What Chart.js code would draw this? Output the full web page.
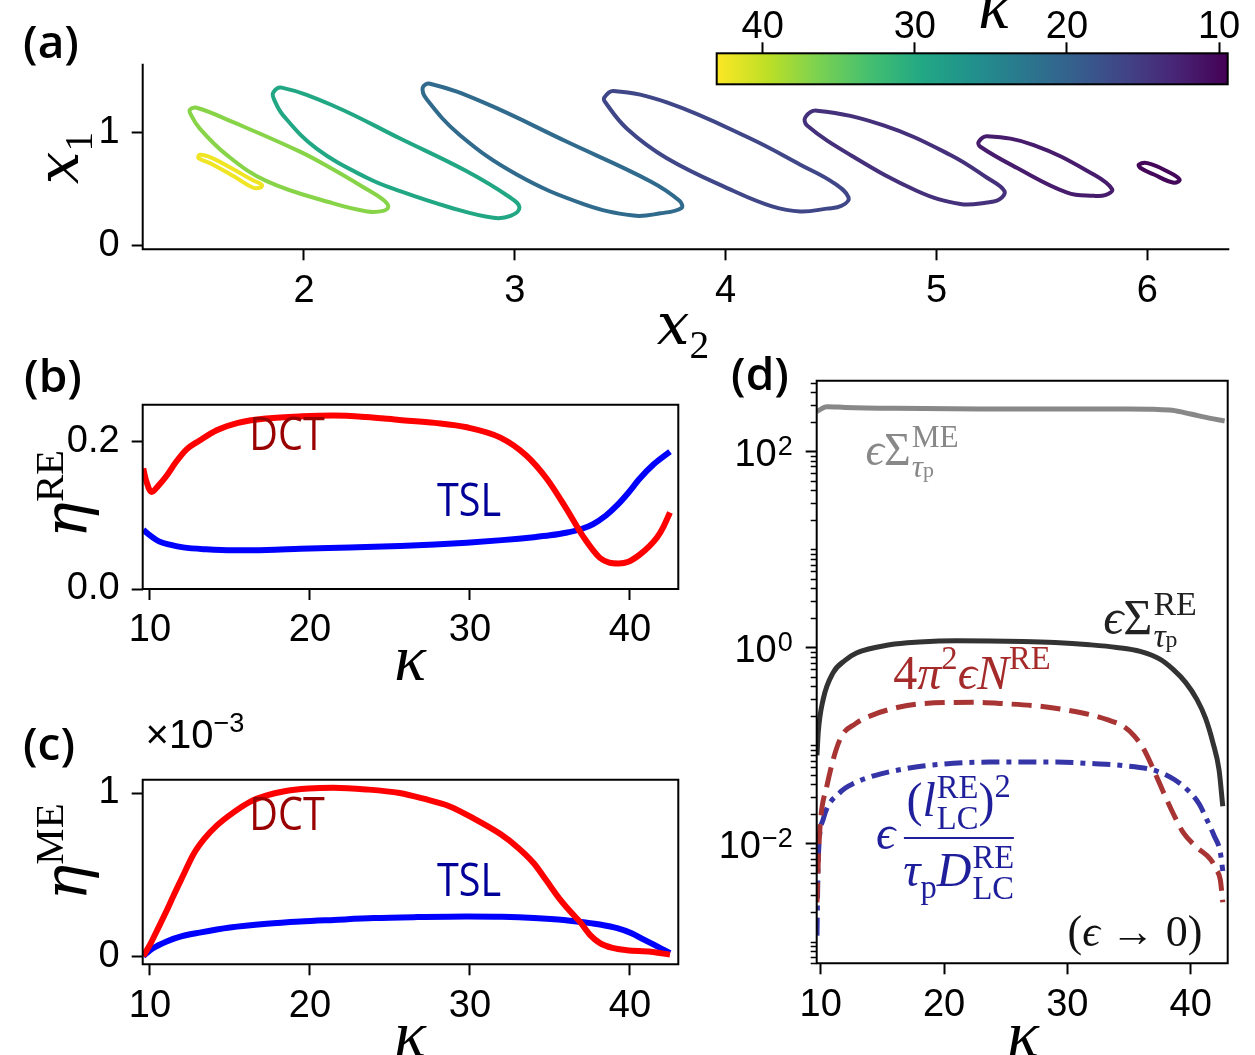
<!DOCTYPE html>
<html>
<head>
<meta charset="utf-8">
<script src="https://cdn.jsdelivr.net/npm/chart.js@4.4.1/dist/chart.umd.min.js"></script>
<style>
  html, body { margin: 0; padding: 0; background: #fff; }
  #page { position: relative; width: 1255px; height: 1055px; overflow: hidden; }
  canvas { position: absolute; }
  .t { position: absolute; white-space: nowrap; line-height: 1; transform: translate(-50%, -50%); }
  .rot { transform: translate(-50%, -50%) rotate(-90deg); }
  .sans { font-family: "Liberation Sans", Arial, sans-serif; }
  .lab { font-family: "Open Sans", "Noto Sans", sans-serif; font-weight: 600; font-size: 46px; }
  .word { font-family: "Open Sans", "Noto Sans", sans-serif; }
  .m { font-family: "Liberation Serif", "DejaVu Serif", serif; }
  .m i { font-style: italic; }
  .ax { font-family: "Liberation Serif", "DejaVu Serif", serif; font-style: italic; }
  .ax .dj { font-family: "DejaVu Serif", serif; }
  .ax .r { font-style: normal; }
  .sp { font-size: 0.68em; position: relative; top: -0.6em; font-style: normal; }
  .sb { font-size: 0.68em; position: relative; top: 0.35em; font-style: normal; }
  .ss { display: inline-flex; flex-direction: column; font-size: 0.68em; line-height: 0.95;
        vertical-align: 0.56em; font-style: normal; margin-left: 1px; }
  .frac { display: inline-flex; flex-direction: column; align-items: center; vertical-align: middle; margin-left: 8px; }
  .frac .num { border-bottom: 2px solid currentColor; padding: 0 3px 3px 3px; }
  .frac .den { padding-top: 3px; }
</style>
</head>
<body>
<div id="page">
  <canvas id="cA" width="1255" height="300" style="left:0;top:30px"></canvas>
  <canvas id="cBar" width="565" height="100" style="left:690px;top:0"></canvas>
  <canvas id="cB" width="700" height="310" style="left:0;top:370px"></canvas>
  <canvas id="cC" width="700" height="300" style="left:0;top:745px"></canvas>
  <canvas id="cD" width="555" height="685" style="left:700px;top:370px"></canvas>

  <!-- panel letters -->
  <div class="t lab" style="left:51px;top:40px">(a)</div>
  <div class="t lab" style="left:53px;top:374px">(b)</div>
  <div class="t lab" style="left:49px;top:742px">(c)</div>
  <div class="t lab" style="left:760px;top:372px">(d)</div>

  <!-- axis titles -->
  <div class="t ax rot" style="left:58px;top:158px;font-size:58px"><span class="dj">x</span><span class="sb r">1</span></div>
  <div class="t ax" style="left:683px;top:324px;font-size:58px"><span class="dj">x</span><span class="sb r">2</span></div>
  <div class="t ax" style="left:994px;top:6px;font-size:66px">κ</div>
  <div class="t ax rot" style="left:66px;top:494px;font-size:60px"><span class="dj">η</span><span class="sp r">RE</span></div>
  <div class="t ax" style="left:410px;top:658px;font-size:66px">κ</div>
  <div class="t ax rot" style="left:66px;top:852px;font-size:60px"><span class="dj">η</span><span class="sp r">ME</span></div>
  <div class="t sans" style="left:195px;top:734px;font-size:40px">×10<span class="sp">−3</span></div>
  <div class="t ax" style="left:410px;top:1034px;font-size:66px">κ</div>
  <div class="t ax" style="left:1023px;top:1034px;font-size:66px">κ</div>

  <!-- curve names in (b) and (c) -->
  <div class="t word" style="left:287px;top:432px;font-size:46px;color:#990000;transform:translate(-50%,-50%) scaleX(0.86)">DCT</div>
  <div class="t word" style="left:469px;top:498px;font-size:46px;color:#000099;transform:translate(-50%,-50%) scaleX(0.86)">TSL</div>
  <div class="t word" style="left:287px;top:812px;font-size:46px;color:#990000;transform:translate(-50%,-50%) scaleX(0.86)">DCT</div>
  <div class="t word" style="left:469px;top:878px;font-size:46px;color:#000099;transform:translate(-50%,-50%) scaleX(0.86)">TSL</div>

  <!-- annotations in (d) -->
  <div class="t m" style="left:912px;top:452px;font-size:46px;color:#888888"><i>ϵ</i>Σ<span class="ss"><span>ME</span><span><i>τ</i><span style="font-size:0.7em">p</span></span></span></div>
  <div class="t m" style="left:1150px;top:620px;font-size:50px;color:#222222"><i>ϵ</i>Σ<span class="ss"><span>RE</span><span><i>τ</i><span style="font-size:0.7em">p</span></span></span></div>
  <div class="t m" style="left:972px;top:673px;font-size:48px;color:#a52a2a">4<i>π</i><span class="sp">2</span><i>ϵ</i><i>N</i><span class="sp">RE</span></div>
  <div class="t m" style="left:945px;top:838px;font-size:48px;color:#1f1f9c">
    <i>ϵ</i><span class="frac">
      <span class="num">(<i>l</i><span class="ss"><span>RE</span><span>LC</span></span>)<span class="sp">2</span></span>
      <span class="den"><i>τ</i><span class="sb">p</span><i>D</i><span class="ss"><span>RE</span><span>LC</span></span></span>
    </span>
  </div>
  <div class="t m" style="left:1135px;top:932px;font-size:44px;color:#111">(<i>ϵ</i> → 0)</div>
</div>

<script>
// ---------- data ----------
// (a) closed orbits, points are [x2, x1]; one kappa per orbit
const loopKappa = [42.3, 37, 29.5, 21, 16.5, 14, 12, 10];
const loop1 = [[1.665,0.676],[1.76,0.575],[1.80,0.538],[1.795,0.514],[1.759,0.511],[1.665,0.615],[1.56,0.725],[1.50,0.775],[1.506,0.806],[1.56,0.78],[1.665,0.676]];
const loop2 = [[1.981,0.833],[2.139,0.673],[2.298,0.497],[2.372,0.41],[2.40,0.345],[2.375,0.305],[2.30,0.30],[2.139,0.371],[1.823,0.570],[1.633,0.804],[1.506,1.038],[1.462,1.169],[1.459,1.208],[1.491,1.225],[1.664,1.096],[1.981,0.833]];
const loop3 = [[2.456,0.95],[2.772,0.658],[2.978,0.424],[3.022,0.336],[2.98,0.26],[2.898,0.243],[2.693,0.335],[2.456,0.48],[2.298,0.60],[2.06,0.86],[1.902,1.155],[1.858,1.30],[1.854,1.36],[1.894,1.404],[2.139,1.243],[2.456,0.95]];
const loop4 = [[3.247,0.921],[3.642,0.570],[3.781,0.395],[3.79,0.33],[3.690,0.283],[3.563,0.263],[3.326,0.366],[3.009,0.629],[2.740,0.98],[2.582,1.30],[2.563,1.404],[2.598,1.439],[2.851,1.272],[3.247,0.921]];
const loop5 = [[4.117,0.950],[4.354,0.717],[4.512,0.555],[4.583,0.424],[4.55,0.35],[4.48,0.325],[4.354,0.30],[4.22,0.345],[4.038,0.482],[3.721,0.775],[3.532,1.038],[3.43,1.272],[3.424,1.316],[3.468,1.375],[3.721,1.272],[4.117,0.950]];
const loop6 = [[4.749,1.067],[5.066,0.804],[5.24,0.60],[5.322,0.482],[5.30,0.41],[5.24,0.38],[5.113,0.366],[4.908,0.482],[4.591,0.804],[4.386,1.067],[4.378,1.14],[4.433,1.199],[4.749,1.067]];
const loop7 = [[5.461,0.892],[5.746,0.629],[5.833,0.497],[5.80,0.445],[5.746,0.439],[5.62,0.468],[5.383,0.687],[5.208,0.877],[5.20,0.921],[5.24,0.971],[5.461,0.892]];
const loop8 = [[6.094,0.658],[6.153,0.585],[6.126,0.556],[6.031,0.629],[5.968,0.687],[5.96,0.717],[6.0,0.731],[6.094,0.658]];
const loops = [loop1, loop2, loop3, loop4, loop5, loop6, loop7, loop8];

// (b) eta^RE
const kB_DCT = [9.58, 9.75, 10.1, 10.5, 11.04, 11.6, 12.29, 13.1, 14.17, 15.5, 17.29, 19.5, 21.46, 23.5, 25.6, 27.8, 29.8, 31.9, 33.5, 34.8, 36.0, 37.1, 38.1, 38.7, 39.3, 39.9, 40.6, 41.2, 41.7, 42.1, 42.5];
const etaRE_DCT = [0.164, 0.148, 0.132, 0.140, 0.154, 0.172, 0.190, 0.202, 0.216, 0.226, 0.232, 0.235, 0.236, 0.234, 0.230, 0.226, 0.220, 0.206, 0.182, 0.150, 0.110, 0.0705, 0.0427, 0.036, 0.0347, 0.037, 0.0466, 0.058, 0.0705, 0.085, 0.104];
const kB_TSL = [9.58, 10.0, 10.6, 11.3, 12.08, 13.5, 15.2, 17.3, 19.4, 22.5, 25.6, 27.8, 29.8, 32, 34, 35, 36, 37, 37.7, 38.5, 39.2, 39.9, 40.6, 41.5, 42.5];
const etaRE_TSL = [0.0805, 0.073, 0.0645, 0.060, 0.0566, 0.054, 0.0526, 0.053, 0.0546, 0.0565, 0.0586, 0.0605, 0.063, 0.0665, 0.0705, 0.073, 0.0765, 0.082, 0.0884, 0.100, 0.114, 0.131, 0.150, 0.170, 0.187];

// (c) eta^ME, in units of 1e-3
const kC_DCT = [9.58, 10.0, 10.42, 11.0, 11.46, 12.1, 12.7, 13.4, 14.17, 15.2, 16.25, 17.3, 18.33, 19.9, 21.46, 23.5, 25.6, 27.1, 28.7, 30.3, 31.9, 33.0, 34.0, 34.8, 35.6, 36.3, 36.9, 37.5, 38.1, 38.9, 39.8, 41.3, 42.5];
const etaME_DCT = [0, 0.07, 0.153, 0.27, 0.369, 0.50, 0.622, 0.72, 0.80, 0.88, 0.946, 0.985, 1.009, 1.027, 1.032, 1.022, 1.0, 0.965, 0.919, 0.84, 0.748, 0.665, 0.568, 0.46, 0.351, 0.27, 0.207, 0.13, 0.081, 0.05, 0.036, 0.027, 0.009];
const kC_TSL = [9.58, 10.0, 10.5, 11.04, 12, 13.1, 15, 17.3, 19.4, 21.5, 24, 26.7, 29.8, 32, 34, 35.5, 37.1, 38.2, 39.2, 40.1, 40.9, 41.7, 42.5];
const etaME_TSL = [0, 0.036, 0.065, 0.09, 0.122, 0.144, 0.175, 0.198, 0.212, 0.222, 0.233, 0.239, 0.243, 0.241, 0.234, 0.224, 0.207, 0.192, 0.171, 0.14, 0.099, 0.06, 0.018];

// (d) log-scale quantities
const kD_ME = [9.7, 10.5, 12, 16, 23, 30, 35, 37, 38.5, 40, 41.5, 42.75];
const sigmaME = [255, 285, 280, 274, 270, 270, 270, 268, 262, 240, 218, 204];
const kD_RE = [9.7, 9.8, 10.2, 11.0, 12.0, 12.9, 15.6, 18, 21, 26.4, 29, 31.8, 34, 35.9, 37.5, 38.6, 39.6, 40.5, 41.2, 41.8, 42.3, 42.6];
const sigmaRE = [0.0794, 0.135, 0.295, 0.55, 0.741, 0.877, 1.064, 1.135, 1.17, 1.15, 1.122, 1.064, 1.0, 0.912, 0.759, 0.593, 0.437, 0.295, 0.19, 0.107, 0.0562, 0.024];
const kD_N = [9.7, 9.8, 9.95, 10.5, 11.56, 12.8, 14.3, 16.3, 18.3, 22.4, 25, 27.8, 30, 31.8, 33.3, 34.5, 35.4, 36.2, 37, 37.8, 38.6, 39.4, 40.5, 41.6, 42.1, 42.4, 42.6];
const normN = [0.00251, 0.00631, 0.0151, 0.0385, 0.115, 0.166, 0.2065, 0.245, 0.267, 0.275, 0.266, 0.251, 0.229, 0.2065, 0.182, 0.158, 0.126, 0.0912, 0.0562, 0.0331, 0.02, 0.0129, 0.00912, 0.00692, 0.00537, 0.00427, 0.00251];
const kD_L = [9.7, 9.75, 9.8, 10.2, 11.56, 12.8, 14.3, 16.3, 18.3, 23.7, 29.1, 32, 34.5, 37.2, 38.7, 39.95, 40.7, 41.3, 41.9, 42.4, 42.6];
const lcRatio = [0.00115, 0.00316, 0.00692, 0.0176, 0.0331, 0.0417, 0.049, 0.0562, 0.0617, 0.0676, 0.0676, 0.0653, 0.0624, 0.055, 0.0447, 0.0331, 0.0251, 0.0176, 0.012, 0.00813, 0.00525];

// tick values
const xTicksA = [2, 3, 4, 5, 6];
const yTicksA = [0, 1];
const kappaTicks = [10, 20, 30, 40];
const yTicksB = [0, 0.2];
const yTicksC = [0, 1];
const barTicks = [10, 20, 30, 40];
const logMajor = [1e-2, 1, 1e2];

// ---------- styling helpers ----------
const VIRIDIS = ['#440154', '#482475', '#414487', '#355f8d', '#2a788e', '#21918c', '#22a884', '#44bf70', '#7ad151', '#bddf26', '#fde725'];
const K_MIN = 9.43, K_MAX = 43.02;

function hex2rgb(h) {
  return [1, 3, 5].map(i => parseInt(h.substr(i, 2), 16));
}
function viridis(f) {
  f = Math.max(0, Math.min(1, f)) * 10;
  const i = Math.min(9, Math.floor(f)), t = f - i;
  const a = hex2rgb(VIRIDIS[i]), b = hex2rgb(VIRIDIS[i + 1]);
  const c = a.map((v, k) => Math.round(v + (b[k] - v) * t));
  return `rgb(${c[0]},${c[1]},${c[2]})`;
}
const pts = (xs, ys) => xs.map((x, i) => ({ x, y: ys[i] }));

const TICK_FONT = { family: '"Liberation Sans", Arial, sans-serif', size: 38 };

const framePlugin = {
  id: 'frame',
  afterDatasetsDraw(chart, args, opts) {
    const { left, top, right, bottom } = chart.chartArea;
    const c = chart.ctx;
    c.save();
    c.strokeStyle = '#000';
    c.lineWidth = 2;
    c.lineCap = 'square';
    c.beginPath();
    if (opts.box) {
      c.rect(left, top, right - left, bottom - top);
    } else {
      c.moveTo(left, top);
      c.lineTo(left, bottom);
      c.lineTo(right, bottom);
    }
    c.stroke();
    c.restore();
  }
};

// place the plot area at an exact spot of the page
function layoutFor(canvasBox, plot) {
  return {
    padding: { left: 0, top: plot.t - canvasBox.y, right: canvasBox.x + canvasBox.w - plot.r, bottom: 0 },
    yw: plot.l - canvasBox.x,
    xh: canvasBox.y + canvasBox.h - plot.b
  };
}

function linAxis(min, max, ticks, fmt, size, isX) {
  return {
    type: 'linear',
    min, max,
    afterBuildTicks: s => { s.ticks = ticks.map(v => ({ value: v })); },
    afterFit: s => { if (isX) s.height = size; else s.width = size; },
    grid: { drawOnChartArea: false, drawTicks: true, tickLength: 11, tickWidth: 2, tickColor: '#000' },
    border: { display: false },
    ticks: { font: TICK_FONT, color: '#000', padding: isX ? 8 : 12, maxRotation: 0, autoSkip: false, callback: fmt }
  };
}

const baseOptions = (lay) => ({
  responsive: false,
  animation: false,
  events: [],
  layout: { padding: lay.padding },
  plugins: { legend: { display: false }, tooltip: { enabled: false } },
  elements: { point: { radius: 0 } }
});

// closed smooth loop: add one wrap-around point on each side and hide those two segments
function closedLoop(lp) {
  const n = lp.length;
  const ring = [lp[n - 2], ...lp, lp[1]];
  return ring.map(p => ({ x: p[0], y: p[1] }));
}

// ---------- (a) orbits ----------
{
  const box = { x: 0, y: 30, w: 1255, h: 300 };
  const lay = layoutFor(box, { l: 142.7, t: 61.7, r: 1228.3, b: 249.3 });
  const opts = baseOptions(lay);
  opts.plugins.frame = { box: false };
  opts.scales = {
    x: linAxis(1.235, 6.384, xTicksA, v => String(v), lay.xh, true),
    y: linAxis(-0.038, 1.608, yTicksA, v => String(v), lay.yw, false)
  };
  new Chart(document.getElementById('cA'), {
    type: 'scatter',
    data: {
      datasets: loops.map((lp, i) => {
        const data = closedLoop(lp);
        return {
          data,
          showLine: true,
          borderColor: viridis((loopKappa[i] - K_MIN) / (K_MAX - K_MIN)),
          borderWidth: 4,
          tension: 0.4,
          pointRadius: 0,
          segment: {
            borderColor: ctx => (ctx.p0DataIndex === 0 || ctx.p1DataIndex === data.length - 1) ? 'rgba(0,0,0,0)' : undefined
          }
        };
      })
    },
    options: opts,
    plugins: [framePlugin]
  });
}

// ---------- colorbar ----------
{
  const box = { x: 690, y: 0, w: 565, h: 100 };
  const plot = { l: 716.7, t: 53.3, r: 1227.7, b: 84.3 };
  const gradientPlugin = {
    id: 'cbar',
    beforeDatasetsDraw(chart) {
      const { left, top, right, bottom } = chart.chartArea;
      const c = chart.ctx;
      const g = c.createLinearGradient(left, 0, right, 0);
      VIRIDIS.forEach((col, i) => g.addColorStop(i / 10, VIRIDIS[10 - i]));
      c.save();
      c.fillStyle = g;
      c.fillRect(left, top, right - left, bottom - top);
      c.strokeStyle = '#000';
      c.lineWidth = 2;
      c.strokeRect(left, top, right - left, bottom - top);
      c.restore();
    }
  };
  const xAx = linAxis(K_MIN, K_MAX, barTicks, v => String(v), plot.t - box.y, true);
  xAx.position = 'top';
  xAx.reverse = true;
  xAx.ticks.padding = -8;
  new Chart(document.getElementById('cBar'), {
    type: 'scatter',
    data: { datasets: [{ data: [] }] },
    options: Object.assign(baseOptions({ padding: {} }), {
      layout: { padding: { left: plot.l - box.x, right: box.x + box.w - plot.r, top: 0, bottom: box.y + box.h - plot.b } },
      scales: { x: xAx, y: { display: false, min: 0, max: 1 } }
    }),
    plugins: [gradientPlugin]
  });
}

// ---------- (b) eta^RE ----------
{
  const box = { x: 0, y: 370, w: 700, h: 310 };
  const lay = layoutFor(box, { l: 142.7, t: 379.3, r: 678.3, b: 589 });
  const opts = baseOptions(lay);
  opts.plugins.frame = { box: true };
  opts.scales = {
    x: linAxis(9.544, 43.02, kappaTicks, v => String(v), lay.xh, true),
    y: linAxis(0, 0.2506, yTicksB, v => v.toFixed(1), lay.yw, false)
  };
  new Chart(document.getElementById('cB'), {
    type: 'scatter',
    data: {
      datasets: [
        { data: pts(kB_DCT, etaRE_DCT), showLine: true, borderColor: '#ff0000', borderWidth: 6, tension: 0.4, cubicInterpolationMode: 'monotone' },
        { data: pts(kB_TSL, etaRE_TSL), showLine: true, borderColor: '#0000ff', borderWidth: 6, tension: 0.4, cubicInterpolationMode: 'monotone' }
      ]
    },
    options: opts,
    plugins: [framePlugin]
  });
}

// ---------- (c) eta^ME ----------
{
  const box = { x: 0, y: 745, w: 700, h: 300 };
  const lay = layoutFor(box, { l: 142.7, t: 755, r: 678.3, b: 964.3 });
  const opts = baseOptions(lay);
  opts.plugins.frame = { box: true };
  opts.scales = {
    x: linAxis(9.544, 43.02, kappaTicks, v => String(v), lay.xh, true),
    y: linAxis(-0.0503, 1.081, yTicksC, v => String(v), lay.yw, false)
  };
  new Chart(document.getElementById('cC'), {
    type: 'scatter',
    data: {
      datasets: [
        { data: pts(kC_DCT, etaME_DCT), showLine: true, borderColor: '#ff0000', borderWidth: 6, tension: 0.4, cubicInterpolationMode: 'monotone' },
        { data: pts(kC_TSL, etaME_TSL), showLine: true, borderColor: '#0000ff', borderWidth: 6, tension: 0.4, cubicInterpolationMode: 'monotone' }
      ]
    },
    options: opts,
    plugins: [framePlugin]
  });
}

// ---------- (d) log panel ----------
{
  const box = { x: 700, y: 370, w: 555, h: 685 };
  const lay = layoutFor(box, { l: 816.7, t: 380.7, r: 1227.7, b: 963.3 });
  const isMajor = v => logMajor.some(m => Math.abs(Math.log10(v) - Math.log10(m)) < 1e-6);

  const logLabels = {
    id: 'logLabels',
    afterDraw(chart) {
      const s = chart.scales.y;
      const c = chart.ctx;
      const left = chart.chartArea.left;
      c.save();
      c.strokeStyle = '#000';
      c.lineWidth = 1.5;
      s.ticks.forEach(t => {
        if (isMajor(t.value)) return;
        const y = Math.round(s.getPixelForValue(t.value)) + 0.5;
        c.beginPath();
        c.moveTo(left - 6, y);
        c.lineTo(left, y);
        c.stroke();
      });
      c.fillStyle = '#000';
      c.textAlign = 'right';
      c.textBaseline = 'alphabetic';
      const xr = left - 11 - 13;
      logMajor.forEach(v => {
        const y = s.getPixelForValue(v);
        const e = Math.round(Math.log10(v));
        const es = e < 0 ? '\u2212' + (-e) : String(e);
        c.font = '27px "Liberation Sans", Arial, sans-serif';
        const ew = c.measureText(es).width;
        c.fillText(es, xr, y + 4);
        c.font = '38px "Liberation Sans", Arial, sans-serif';
        c.fillText('10', xr - ew - 1, y + 15);
      });
      c.restore();
    }
  };

  const opts = baseOptions(lay);
  opts.plugins.frame = { box: true };
  opts.scales = {
    x: linAxis(9.676, 43.0, kappaTicks, v => String(v), lay.xh, true),
    y: {
      type: 'logarithmic',
      min: Math.pow(10, -3.215),
      max: Math.pow(10, 2.72),
      afterBuildTicks: s => {
        const list = [];
        for (let e = -4; e <= 2; e++) {
          for (let m = 1; m <= 9; m++) {
            const v = m * Math.pow(10, e);
            if (v >= s.min && v <= s.max) list.push({ value: v });
          }
        }
        s.ticks = list;
      },
      afterFit: s => { s.width = lay.yw; },
      grid: {
        drawOnChartArea: false, drawTicks: true, tickLength: 11, tickWidth: 2,
        tickColor: ctx => (ctx.tick && isMajor(ctx.tick.value)) ? '#000' : 'rgba(0,0,0,0)'
      },
      border: { display: false },
      ticks: { display: false }
    }
  };
  new Chart(document.getElementById('cD'), {
    type: 'scatter',
    data: {
      datasets: [
        { data: pts(kD_ME, sigmaME), showLine: true, borderColor: '#888888', borderWidth: 5, tension: 0.4, cubicInterpolationMode: 'monotone' },
        { data: pts(kD_RE, sigmaRE), showLine: true, borderColor: '#333333', borderWidth: 5, tension: 0.4, cubicInterpolationMode: 'monotone' },
        { data: pts(kD_N, normN), showLine: true, borderColor: '#a83434', borderWidth: 5, borderDash: [20, 9], tension: 0.4, cubicInterpolationMode: 'monotone' },
        { data: pts(kD_L, lcRatio), showLine: true, borderColor: '#3535a8', borderWidth: 5, borderDash: [18, 7, 5, 7], tension: 0.4, cubicInterpolationMode: 'monotone' }
      ]
    },
    options: opts,
    plugins: [framePlugin, logLabels]
  });
}
</script>
</body>
</html>
